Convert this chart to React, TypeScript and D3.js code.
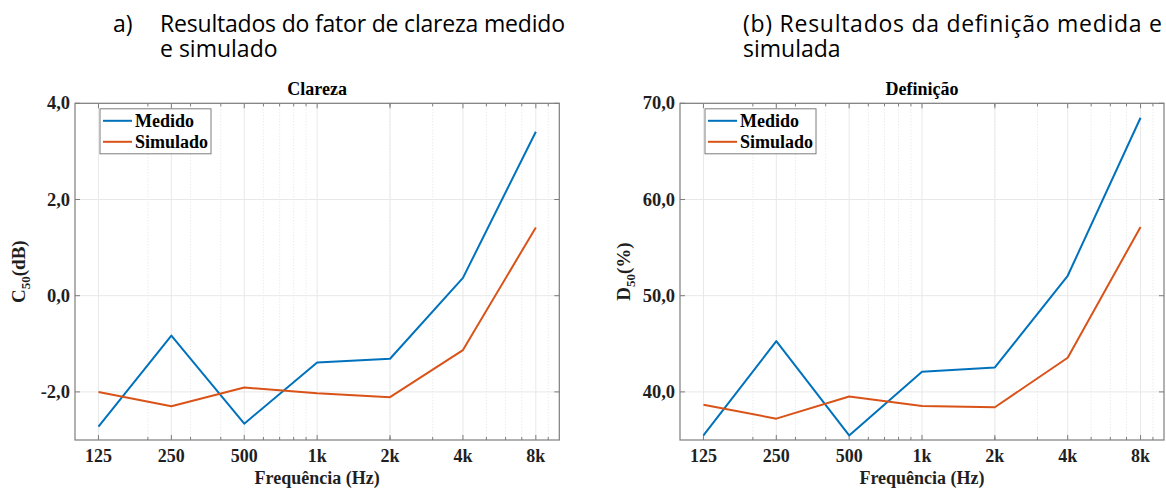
import React from "react";
import * as d3 from "d3";

const freqs = [125, 250, 500, 1000, 2000, 4000, 8000];
const freqLabels = ["125", "250", "500", "1k", "2k", "4k", "8k"];
const minorFreqs = [200, 300, 400, 600, 700, 800, 900, 2000, 3000, 5000, 6000, 7000, 9000];
const c50Medido = [-2.72, -0.83, -2.66, -1.39, -1.31, 0.37, 3.41];
const c50Simulado = [-2.0, -2.3, -1.91, -2.03, -2.11, -1.13, 1.42];
const d50Medido = [35.48, 45.28, 35.48, 42.1, 42.54, 52.07, 68.5];
const d50Simulado = [38.67, 37.22, 39.53, 38.54, 38.4, 43.55, 57.15];
const c50Ticks = [-2, 0, 2, 4];
const d50Ticks = [40, 50, 60, 70];
const seriesNames = ["Medido", "Simulado"];
const seriesColors = ["#0072BD", "#D95319"];

const SERIF = "'Liberation Serif', 'Times New Roman', serif";
const SANS = "'Open Sans', 'Noto Sans', sans-serif";
const AXIS = "#7d7d7d";
const INK = "#1f1f1f";

const fmt = (v: number) => d3.format(".1f")(v).replace(".", ",").replace("\u2212", "-");

type PanelProps = {
  left: number;
  top: number;
  width: number;
  height: number;
  yDomain: [number, number];
  yTicks: number[];
  series: number[][];
  title: string;
  yMain: string;
  yUnit: string;
};

function Panel({ left, top, width, height, yDomain, yTicks, series, title, yMain, yUnit }: PanelProps) {
  const x = d3.scaleLog().domain([100, 10000]).range([left, left + width]);
  const y = d3.scaleLinear().domain(yDomain).range([top + height, top]);
  const line = d3
    .line<number>()
    .x((_, i) => x(freqs[i]))
    .y((d) => y(d));
  const bottom = top + height;
  const right = left + width;
  const cx = left + width / 2;
  return (
    <g>
      {minorFreqs.map((f) => (
        <line key={"mg" + f} x1={x(f)} x2={x(f)} y1={top} y2={bottom} stroke="#dcdcdc" strokeWidth={0.8} strokeDasharray="1,2" />
      ))}
      {freqs.map((f) => (
        <line key={"g" + f} x1={x(f)} x2={x(f)} y1={top} y2={bottom} stroke="#e8e8e8" strokeWidth={1} />
      ))}
      {yTicks.map((t) => (
        <line key={"gy" + t} x1={left} x2={right} y1={y(t)} y2={y(t)} stroke="#e8e8e8" strokeWidth={1} />
      ))}
      {minorFreqs.map((f) => (
        <g key={"mt" + f}>
          <line x1={x(f)} x2={x(f)} y1={bottom} y2={bottom - 3} stroke={AXIS} />
          <line x1={x(f)} x2={x(f)} y1={top} y2={top + 3} stroke={AXIS} />
        </g>
      ))}
      {freqs.map((f) => (
        <g key={"t" + f}>
          <line x1={x(f)} x2={x(f)} y1={bottom} y2={bottom - 5} stroke={AXIS} />
          <line x1={x(f)} x2={x(f)} y1={top} y2={top + 5} stroke={AXIS} />
        </g>
      ))}
      {yTicks.map((t) => (
        <g key={"ty" + t}>
          <line x1={left} x2={left + 5} y1={y(t)} y2={y(t)} stroke={AXIS} />
          <line x1={right} x2={right - 5} y1={y(t)} y2={y(t)} stroke={AXIS} />
        </g>
      ))}
      <rect x={left} y={top} width={width} height={height} fill="none" stroke={AXIS} strokeWidth={1.2} />
      {series.map((s, i) => (
        <path key={"s" + i} d={line(s) || ""} fill="none" stroke={seriesColors[i]} strokeWidth={2} strokeLinejoin="round" />
      ))}
      {freqs.map((f, i) => (
        <text key={"xl" + f} x={x(f)} y={bottom + 22} textAnchor="middle" fontFamily={SERIF} fontWeight="bold" fontSize={18} fill={INK}>
          {freqLabels[i]}
        </text>
      ))}
      {yTicks.map((t) => (
        <text key={"yl" + t} x={left - 5} y={y(t) + 6} textAnchor="end" fontFamily={SERIF} fontWeight="bold" fontSize={18.5} fill={INK}>
          {fmt(t)}
        </text>
      ))}
      <text x={cx} y={top - 8} textAnchor="middle" fontFamily={SERIF} fontWeight="bold" fontSize={18} fill="#000">
        {title}
      </text>
      <text x={cx} y={bottom + 44} textAnchor="middle" fontFamily={SERIF} fontWeight="bold" fontSize={18} fill={INK}>
        Frequência (Hz)
      </text>
      <text
        transform={`translate(${left - 50},${top + height / 2}) rotate(-90)`}
        textAnchor="middle"
        fontFamily={SERIF}
        fontWeight="bold"
        fontSize={19}
        fill={INK}
      >
        {yMain}
        <tspan fontSize={13} dy={5}>50</tspan>
        <tspan dy={-5}>{yUnit}</tspan>
      </text>
      <rect x={left + 25} y={top + 5.5} width={111} height={45} fill="#fff" stroke={AXIS} strokeWidth={1} />
      {seriesNames.map((n, i) => (
        <g key={"lg" + n}>
          <line x1={left + 28} x2={left + 57} y1={top + 17.5 + i * 21} y2={top + 17.5 + i * 21} stroke={seriesColors[i]} strokeWidth={2} />
          <text x={left + 60} y={top + 23.5 + i * 21} fontFamily={SERIF} fontWeight="bold" fontSize={18} fill="#000">
            {n}
          </text>
        </g>
      ))}
    </g>
  );
}

export default function App() {
  return (
    <svg width={1166} height={490} style={{ position: "absolute", left: 0, top: 0, background: "#fff" }}>
      <rect x={0} y={0} width={1166} height={490} fill="#fff" />
      <g fontFamily={SANS} fontSize={23} fill="#000">
        <text x={113} y={32}>a)</text>
        <text x={160} y={32} textLength={405} lengthAdjust="spacing">Resultados do fator de clareza medido</text>
        <text x={160} y={57}>e simulado</text>
        <text x={743} y={32} textLength={419} lengthAdjust="spacing">(b) Resultados da definição medida e</text>
        <text x={743} y={57}>simulada</text>
      </g>
      <Panel
        left={75}
        top={103.3}
        width={484.3}
        height={336.7}
        yDomain={[-3, 4]}
        yTicks={c50Ticks}
        series={[c50Medido, c50Simulado]}
        title="Clareza"
        yMain="C"
        yUnit="(dB)"
      />
      <Panel
        left={680}
        top={103.3}
        width={484}
        height={336.7}
        yDomain={[35, 70]}
        yTicks={d50Ticks}
        series={[d50Medido, d50Simulado]}
        title="Definição"
        yMain="D"
        yUnit="(%)"
      />
    </svg>
  );
}
